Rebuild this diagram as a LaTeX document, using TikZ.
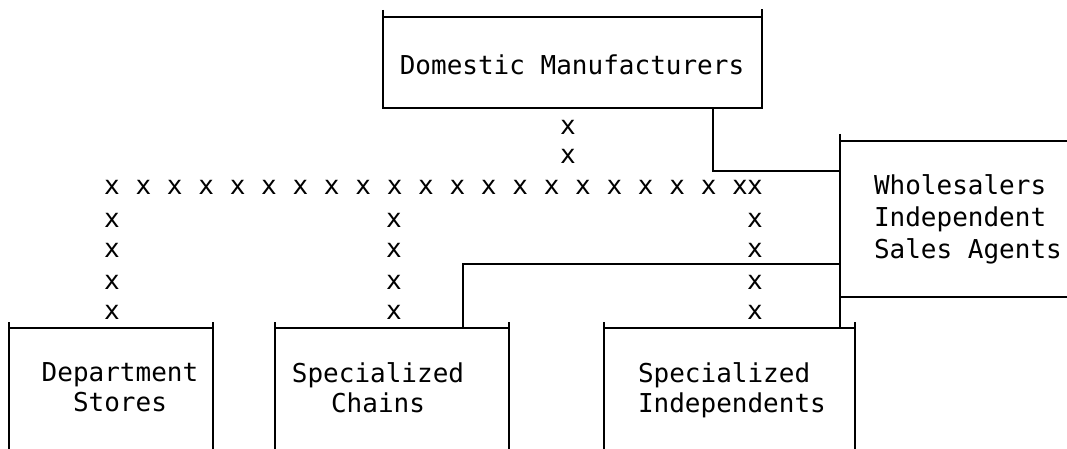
\documentclass[tikz,border=0pt]{standalone}
\usepackage{fontspec}
\newfontfamily\typ{DejaVu Sans Mono}
\usetikzlibrary{fit}
\begin{document}
\begin{tikzpicture}[x=1pt,y=-1pt,line width=2.7pt,
  frame/.style={inner sep=0pt,outer sep=0pt},
  lbl/.style={font=\typ\fontsize{26}{30}\selectfont,inner sep=0pt,outer sep=0pt},
  xm/.style={font=\typ\fontsize{26}{30}\selectfont,inner sep=0pt,outer sep=0pt}]
\useasboundingbox (0,0) rectangle (1067,449);
% frames
\node[frame,fit={(383,17) (762,108)}] (dm) {};
\node[frame,fit={(840,141) (1067,297)}] (wh) {};
\node[frame,fit={(9,328) (213,449)}] (ds) {};
\node[frame,fit={(275,328) (509,449)}] (sc) {};
\node[frame,fit={(604,328) (855,449)}] (si) {};
% outlines
\draw ([yshift=7pt]dm.north west) -- (dm.south west) -- (dm.south east) -- ([yshift=8pt]dm.north east);
\draw (dm.north west) -- (dm.north east);
\draw (wh.north east) -- (wh.north west);
\draw ([yshift=7pt]wh.north west) -- (wh.south west);
\draw (wh.south west) -- (wh.south east);
\foreach \b in {ds,sc,si}{
  \draw (\b.south west) -- ([yshift=6pt]\b.north west);
  \draw (\b.north west) -- (\b.north east);
  \draw ([yshift=6pt]\b.north east) -- (\b.south east);
}
% labels
\node[lbl] (dmt) at (572,65) {Domestic Manufacturers};
\node[lbl,align=left,anchor=north west,font=\typ\fontsize{26}{32}\selectfont] (wht) at (874,175) {Wholesalers\\Independent\\Sales Agents};
\node[lbl,align=center,anchor=north] (dst) at (120,363) {Department\\Stores};
\node[lbl,align=center,anchor=north] (sct) at (378,363) {Specialized\\Chains};
\node[lbl,align=left,anchor=north west] (sit) at (638,363) {Specialized\\Independents};
% solid connectors
\draw ([xshift=-49pt]dm.south east) |- ([yshift=-30pt]wh.north west);
\draw ([xshift=-46pt]sc.north east) |- ([yshift=33pt]wh.south west);
\draw (wh.south west) -- (wh.south west |- si.north);
% x-marked channel
\node[xm] (xd1) at (568,127) {x};
\node[xm] (xd2) at (568,156) {x};
\foreach \k in {0,...,20}{
  \node[xm] (xr\k) at ({112+31.4*\k},187.5) {x};
}
\node[xm] (xrx) at (755,187.5) {x};
\foreach \c/\cx in {a/112,b/394,c/755}{
  \foreach \r/\ry in {1/220,2/250,3/282,4/312}{
    \node[xm] (xc\c\r) at (\cx,\ry) {x};
  }
}
\end{tikzpicture}
\end{document}
